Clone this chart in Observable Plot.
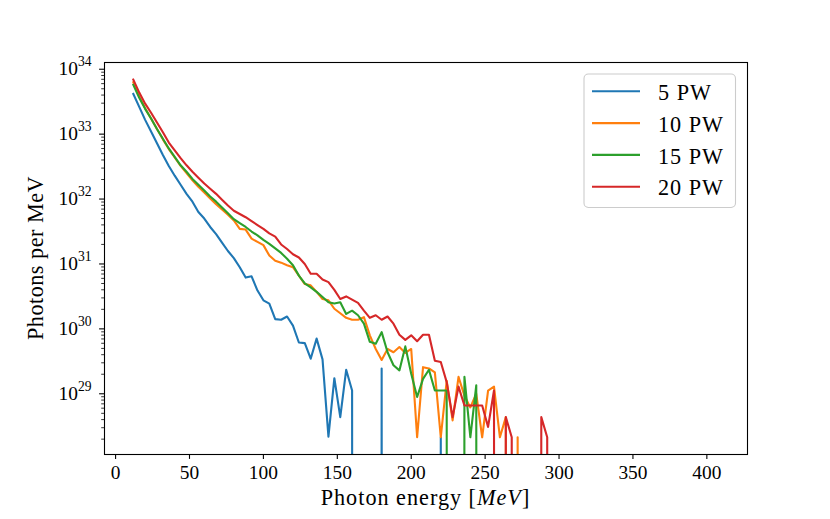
<!DOCTYPE html>
<html>
<head>
<meta charset="utf-8">
<script src="https://cdn.jsdelivr.net/npm/d3@7"></script>
<script src="https://cdn.jsdelivr.net/npm/@observablehq/plot@0.6"></script>
<style>
  html, body { margin: 0; padding: 0; background: #fff; }
</style>
</head>
<body>
<div id="chart"></div>
<script>
// ---- data (photon energy bins in MeV; values are log10 of photons per MeV, null = zero count) ----
const energy = [12,16,20,24,28,32,36,40,44,48,52,56,60,64,68,72,76,80,84,88,92,96,100,104,108,112,116,120,124,128,132,136,140,144,148,152,156,160,164,168,172,176,180,184,188,192,196,200,204,208,212,216,220,224,228,232,236,240,244,248,252,256,260,264,268,272,276,280,284,288,292,296];

const seriesNames = ["5 PW", "10 PW", "15 PW", "20 PW"];
const seriesColors = ["#1f77b4", "#ff7f0e", "#2ca02c", "#d62728"];

const log10_5PW = [
  33.62,33.42,33.22,33.04,32.86,32.68,32.51,32.36,32.22,32.08,
  31.96,31.80,31.70,31.57,31.46,31.33,31.20,31.09,30.95,30.79,
  30.81,30.59,30.44,30.39,30.15,30.14,30.19,30.05,29.79,29.78,
  29.54,29.85,29.53,28.34,29.24,28.64,29.37,29.05,null,null,
  null,null,29.39,null,null,null,null,null,null,null,
  null,null,28.33,null,null,null,null,null,null,null,
  null,null,null,null,null,null,null,null,null,null,
  null,null];
const log10_10PW = [
  33.80,33.58,33.40,33.24,33.08,32.92,32.77,32.64,32.51,32.40,
  32.29,32.19,32.10,32.01,31.92,31.84,31.76,31.67,31.54,31.53,
  31.39,31.34,31.29,31.13,31.05,31.02,30.98,30.95,30.82,30.69,
  30.67,30.57,30.46,30.44,30.31,30.24,30.17,30.14,30.14,30.18,
  29.90,29.69,29.52,29.69,29.64,29.72,29.63,29.69,28.33,29.41,
  29.39,29.33,28.33,29.20,28.59,29.26,28.97,28.79,29.00,28.33,
  29.05,29.11,28.33,28.64,null,28.33,null,null,null,null,
  null,null];
const log10_15PW = [
  33.76,33.56,33.39,33.24,33.08,32.93,32.78,32.65,32.52,32.42,
  32.31,32.22,32.13,32.04,31.96,31.87,31.78,31.69,31.63,31.57,
  31.50,31.44,31.37,31.31,31.24,31.17,31.08,30.98,30.82,30.70,
  30.64,30.57,30.49,30.41,30.39,30.41,30.23,30.28,30.21,30.08,
  29.80,29.77,29.95,29.64,29.44,29.36,29.73,29.31,28.95,29.23,
  29.37,29.05,29.05,29.05,null,null,29.26,28.33,29.13,null,
  null,null,null,null,null,null,null,null,null,null,
  null,null];
const log10_20PW = [
  33.84,33.64,33.47,33.33,33.18,33.03,32.87,32.75,32.63,32.52,
  32.42,32.33,32.24,32.16,32.08,31.99,31.90,31.82,31.77,31.72,
  31.66,31.60,31.54,31.47,31.42,31.30,31.23,31.15,31.10,31.00,
  30.85,30.85,30.76,30.72,30.60,30.46,30.50,30.45,30.40,30.28,
  30.17,30.21,30.14,30.19,30.08,29.91,29.83,29.90,29.81,29.91,
  29.91,29.51,29.49,29.18,28.64,29.11,28.82,28.82,28.82,28.82,
  28.49,29.05,null,28.64,28.33,null,null,null,null,28.64,
  28.33,null];

const xTicks = [0, 50, 100, 150, 200, 250, 300, 350, 400];
const yMajorTicks = [1e29, 1e30, 1e31, 1e32, 1e33, 1e34];
const yMinorFactors = [2, 3, 4, 5, 6, 7, 8, 9];
const xLabelText = "Photon energy";
const xLabelUnit = "MeV";
const yLabelText = "Photons per MeV";

// ---- build table ----
const ZERO = 1e-100; // zero counts are clipped far below the log axis (drawn as vertical drops)
const allSeries = [log10_5PW, log10_10PW, log10_15PW, log10_20PW];
const rows = [];
seriesNames.forEach((name, s) => {
  energy.forEach((e, i) => {
    const v = allSeries[s][i];
    rows.push({energy: e, photons: v === null ? ZERO : Math.pow(10, v), series: name});
  });
});

const yDomain = [1.16e28, 1.27e34];
const yMinor = [];
[28, 29, 30, 31, 32, 33].forEach(p => yMinorFactors.forEach(f => {
  const v = f * Math.pow(10, p);
  if (v > yDomain[0] && v < yDomain[1]) yMinor.push(v);
}));

const W = 830, H = 519;
const M = {left: 104, right: 83, top: 62, bottom: 65};
const FONT = "'Liberation Serif', 'DejaVu Serif', serif";

const chart = Plot.plot({
  width: W, height: H,
  marginLeft: M.left, marginRight: M.right, marginTop: M.top, marginBottom: M.bottom,
  style: {fontFamily: FONT, background: "#fff", color: "#000", overflow: "visible"},
  x: {domain: [-7.5, 427.5], label: null},
  y: {type: "log", domain: yDomain, label: null},
  color: {domain: seriesNames, range: seriesColors},
  marks: [
    Plot.line(rows, {x: "energy", y: "photons", z: "series", stroke: "series",
      strokeWidth: 2.1, strokeLinejoin: "round", strokeLinecap: "square", clip: true}),
    Plot.frame({stroke: "#000", strokeWidth: 1.1}),
    Plot.axisX({ticks: xTicks, tickSize: 4.9, tickPadding: 6, fontSize: 19.4, strokeWidth: 1.1,
      label: null, tickFormat: d => String(d)}),
    Plot.axisY({ticks: yMajorTicks, tickSize: 4.9, tickPadding: 8, fontSize: 19.4, strokeWidth: 1.1,
      label: null, tickFormat: d => String(Math.round(Math.log10(d)))}),
    Plot.axisY({ticks: yMinor, tickSize: 2.8, strokeWidth: 0.8, label: null, tickFormat: () => ""})
  ]
});
document.getElementById("chart").appendChild(chart);

const svg = d3.select(chart);

// y tick labels as 10^n with superscript
svg.selectAll('g[aria-label="y-axis tick label"] text').each(function() {
  const t = d3.select(this);
  const exp = t.text();
  if (!exp) return;
  t.text("");
  t.append("tspan").text("10");
  t.append("tspan").attr("dy", -9).attr("font-size", 13.6).text(exp);
});

// axis labels
const xl = svg.append("text")
  .attr("x", (M.left + W - M.right) / 2).attr("y", 504.5)
  .attr("text-anchor", "middle").attr("font-family", FONT).attr("font-size", 22.2)
  .attr("letter-spacing", 1).attr("fill", "#000");
xl.append("tspan").text(xLabelText + " [");
xl.append("tspan").attr("font-style", "italic").text(xLabelUnit);
xl.append("tspan").text("]");

svg.append("text")
  .attr("transform", `translate(43,${(M.top + H - M.bottom) / 2}) rotate(-90)`)
  .attr("text-anchor", "middle").attr("font-family", FONT).attr("font-size", 22.2)
  .attr("letter-spacing", 0.5).attr("fill", "#000")
  .text(yLabelText);

// legend (upper right, inside axes)
const lg = svg.append("g").attr("aria-label", "legend");
lg.append("rect").attr("x", 584).attr("y", 74).attr("width", 151.5).attr("height", 133.5)
  .attr("rx", 4.4).attr("fill", "#fff").attr("fill-opacity", 0.8)
  .attr("stroke", "#cccccc").attr("stroke-width", 1.1);
seriesNames.forEach((name, i) => {
  const cy = 91.3 + i * 31.8;
  lg.append("line").attr("x1", 592).attr("x2", 640).attr("y1", cy).attr("y2", cy)
    .attr("stroke", seriesColors[i]).attr("stroke-width", 2.1);
  lg.append("text").attr("x", 658).attr("y", cy + 8.7)
    .attr("text-anchor", "start")
    .attr("font-family", FONT).attr("font-size", 22.2).attr("letter-spacing", 1)
    .attr("fill", "#000").text(name);
});
</script>
</body>
</html>
